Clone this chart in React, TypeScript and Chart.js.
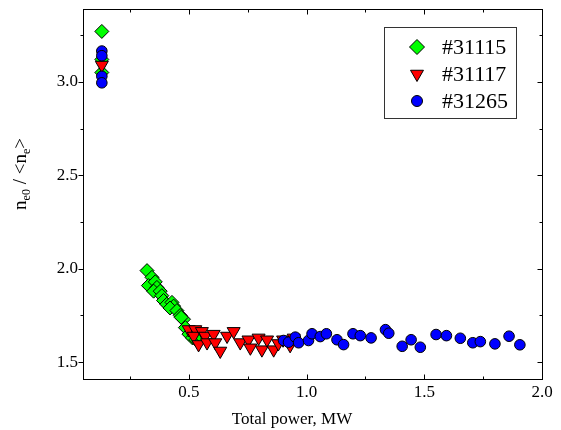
import React, { useEffect, useRef } from 'react';
import { Chart, registerables } from 'chart.js';

Chart.register(...registerables);

const FONT = '"Liberation Serif", "Times New Roman", serif';

const seriesLabels = ['#31115', '#31117', '#31265'];
const xTickLabels = ['0.5', '1.0', '1.5', '2.0'];
const yTickLabels = ['1.5', '2.0', '2.5', '3.0'];
const xTitle = 'Total power, MW';

const s31115X = [0.13, 0.13, 0.13, 0.322, 0.343, 0.328, 0.357, 0.364, 0.35, 0.378, 0.385, 0.392, 0.406, 0.428, 0.435, 0.42, 0.449, 0.463, 0.477, 0.467, 0.485, 0.5, 0.515, 0.53, 0.55];
const s31115Y = [3.27, 3.12, 3.05, 1.99, 1.954, 1.91, 1.93, 1.9, 1.88, 1.88, 1.856, 1.83, 1.81, 1.82, 1.8, 1.79, 1.776, 1.75, 1.73, 1.74, 1.685, 1.65, 1.63, 1.62, 1.64];

const s31117X = [0.13, 0.499, 0.527, 0.52, 0.555, 0.569, 0.541, 0.577, 0.605, 0.612, 0.633, 0.662, 0.69, 0.718, 0.753, 0.761, 0.796, 0.81, 0.832, 0.86, 0.88, 0.9, 0.93, 0.945];
const s31117Y = [3.09, 1.675, 1.675, 1.64, 1.665, 1.64, 1.595, 1.605, 1.65, 1.605, 1.56, 1.64, 1.665, 1.605, 1.62, 1.577, 1.63, 1.567, 1.62, 1.567, 1.6, 1.62, 1.59, 1.63];

const s31265X = [0.13, 0.13, 0.13, 0.13, 0.902, 0.923, 0.952, 0.966, 1.008, 1.023, 1.058, 1.084, 1.129, 1.157, 1.197, 1.228, 1.274, 1.335, 1.349, 1.406, 1.444, 1.483, 1.55, 1.594, 1.653, 1.706, 1.738, 1.8, 1.86, 1.906];
const s31265Y = [3.165, 3.14, 3.03, 2.995, 1.616, 1.607, 1.634, 1.604, 1.616, 1.652, 1.637, 1.652, 1.62, 1.594, 1.652, 1.642, 1.63, 1.674, 1.655, 1.585, 1.62, 1.58, 1.648, 1.642, 1.628, 1.604, 1.61, 1.598, 1.639, 1.593];

const pts = (xs: number[], ys: number[]) => xs.map((x, i) => ({ x, y: ys[i] }));
const isMajor = (v: number) => Math.abs(v * 2 - Math.round(v * 2)) < 1e-6;

function drawMarker(ctx: CanvasRenderingContext2D, kind: string, x: number, y: number, r: number, fill: string) {
  ctx.beginPath();
  if (kind === 'diamond') {
    ctx.moveTo(x, y - r); ctx.lineTo(x + r, y); ctx.lineTo(x, y + r); ctx.lineTo(x - r, y); ctx.closePath();
  } else if (kind === 'tri') {
    const w = r * Math.sqrt(3) / 2;
    ctx.moveTo(x - w, y - r / 2); ctx.lineTo(x + w, y - r / 2); ctx.lineTo(x, y + r); ctx.closePath();
  } else {
    ctx.arc(x, y, r, 0, Math.PI * 2);
  }
  ctx.fillStyle = fill; ctx.fill();
  ctx.strokeStyle = '#000'; ctx.lineWidth = 1; ctx.stroke();
}

const framePlugin = {
  id: 'frame',
  beforeDatasetsDraw(chart: any) {
    const { ctx, chartArea: a, scales } = chart;
    ctx.save();
    ctx.strokeStyle = '#000';
    ctx.lineWidth = 1;
    const L = Math.round(a.left) + 0.5, R = Math.round(a.right) + 0.5, T = Math.round(a.top) + 0.5, B = Math.round(a.bottom) + 0.5;
    ctx.strokeRect(L, T, R - L, B - T);
    const line = (x1: number, y1: number, x2: number, y2: number) => { ctx.beginPath(); ctx.moveTo(x1, y1); ctx.lineTo(x2, y2); ctx.stroke(); };
    for (const t of scales.x.ticks) {
      const px = Math.round(scales.x.getPixelForValue(t.value)) + 0.5;
      const len = isMajor(t.value) ? 5 : 3;
      line(px, B, px, B - len);
      line(px, T, px, T + len);
    }
    for (const t of scales.y.ticks) {
      const py = Math.round(scales.y.getPixelForValue(t.value)) + 0.5;
      const len = isMajor(t.value) ? 5 : 3;
      line(L, py, L - len, py);
      line(R, py, R - len, py);
    }
    ctx.restore();
  },
  afterDraw(chart: any) {
    const { ctx } = chart;
    ctx.save();
    ctx.fillStyle = '#000';
    // x title
    ctx.font = `17px ${FONT}`;
    ctx.textAlign = 'center';
    ctx.textBaseline = 'middle';
    ctx.fillText(xTitle, 292, 420);
    // y title with subscripts
    ctx.translate(26, 174);
    ctx.rotate(-Math.PI / 2);
    const parts: [string, boolean][] = [['n', false], ['e0', true], [' / <n', false], ['e', true], ['>', false]];
    const mainF = `19px ${FONT}`, subF = `12px ${FONT}`;
    let total = 0;
    for (const [s, sub] of parts) { ctx.font = sub ? subF : mainF; total += ctx.measureText(s).width; }
    let cx = -total / 2;
    ctx.textAlign = 'left';
    ctx.textBaseline = 'alphabetic';
    for (const [s, sub] of parts) {
      ctx.font = sub ? subF : mainF;
      ctx.fillText(s, cx, sub ? 4 : 0);
      cx += ctx.measureText(s).width;
    }
    ctx.restore();
    // legend
    ctx.save();
    ctx.strokeStyle = '#333';
    ctx.lineWidth = 1;
    ctx.strokeRect(384.5, 27.5, 132, 91);
    const kinds = ['diamond', 'tri', 'circle'];
    const fills = ['#00ff00', '#ff0000', '#0000ff'];
    const radii = [7.5, 7.5, 5.5];
    const rows = [47, 74, 101];
    ctx.font = `22px ${FONT}`;
    ctx.textAlign = 'left';
    ctx.textBaseline = 'middle';
    for (let i = 0; i < 3; i++) {
      drawMarker(ctx, kinds[i], 417, rows[i], radii[i], fills[i]);
      ctx.fillStyle = '#000';
      ctx.fillText(seriesLabels[i], 442, rows[i] + 1);
    }
    ctx.restore();
  },
};

export default function App() {
  const ref = useRef<HTMLCanvasElement | null>(null);
  useEffect(() => {
    if (!ref.current) return;
    const tickFont = { family: FONT, size: 17 };
    const chart = new Chart(ref.current, {
      type: 'scatter',
      data: {
        datasets: [
          { label: seriesLabels[0], data: pts(s31115X, s31115Y), pointStyle: 'rectRot', pointRadius: 7, pointHoverRadius: 7, backgroundColor: '#00ff00', borderColor: '#000', borderWidth: 1, order: 3 },
          { label: seriesLabels[1], data: pts(s31117X, s31117Y), pointStyle: 'triangle', rotation: 180, pointRadius: 7.5, pointHoverRadius: 7.5, backgroundColor: '#ff0000', borderColor: '#000', borderWidth: 1, order: 2 },
          { label: seriesLabels[2], data: pts(s31265X, s31265Y), pointStyle: 'circle', pointRadius: 5.3, pointHoverRadius: 5.3, backgroundColor: '#0000ff', borderColor: '#000', borderWidth: 1, order: 1 },
        ],
      } as any,
      options: {
        animation: false,
        responsive: false,
        events: [],
        layout: { padding: { top: 9, right: 19, bottom: 0, left: 0 } },
        plugins: { legend: { display: false }, tooltip: { enabled: false } },
        scales: {
          x: {
            type: 'linear', min: 0.05, max: 2.0,
            grid: { display: false, drawTicks: false },
            border: { display: false },
            ticks: {
              stepSize: 0.25, includeBounds: false, autoSkip: false, maxRotation: 0, padding: 3,
              color: '#000', font: tickFont,
              callback: (v: any) => { const s = Number(v).toFixed(1); return isMajor(Number(v)) && xTickLabels.includes(s) ? s : ''; },
            },
            afterFit: (s: any) => { s.height = 51; s.paddingLeft = 0; s.paddingRight = 0; },
          },
          y: {
            type: 'linear', min: 1.41, max: 3.39,
            grid: { display: false, drawTicks: false },
            border: { display: false },
            ticks: {
              stepSize: 0.25, includeBounds: false, autoSkip: false, padding: 5,
              color: '#000', font: tickFont,
              callback: (v: any) => { const s = Number(v).toFixed(1); return isMajor(Number(v)) && yTickLabels.includes(s) ? s : ''; },
            },
            afterFit: (s: any) => { s.width = 83; s.paddingTop = 0; s.paddingBottom = 0; },
          },
        },
      } as any,
      plugins: [framePlugin],
    });
    return () => chart.destroy();
  }, []);
  return (
    <div style={{ position: 'absolute', left: 0, top: 0, width: 561, height: 430, background: '#fff' }}>
      <canvas ref={ref} width={561} height={430} />
    </div>
  );
}
